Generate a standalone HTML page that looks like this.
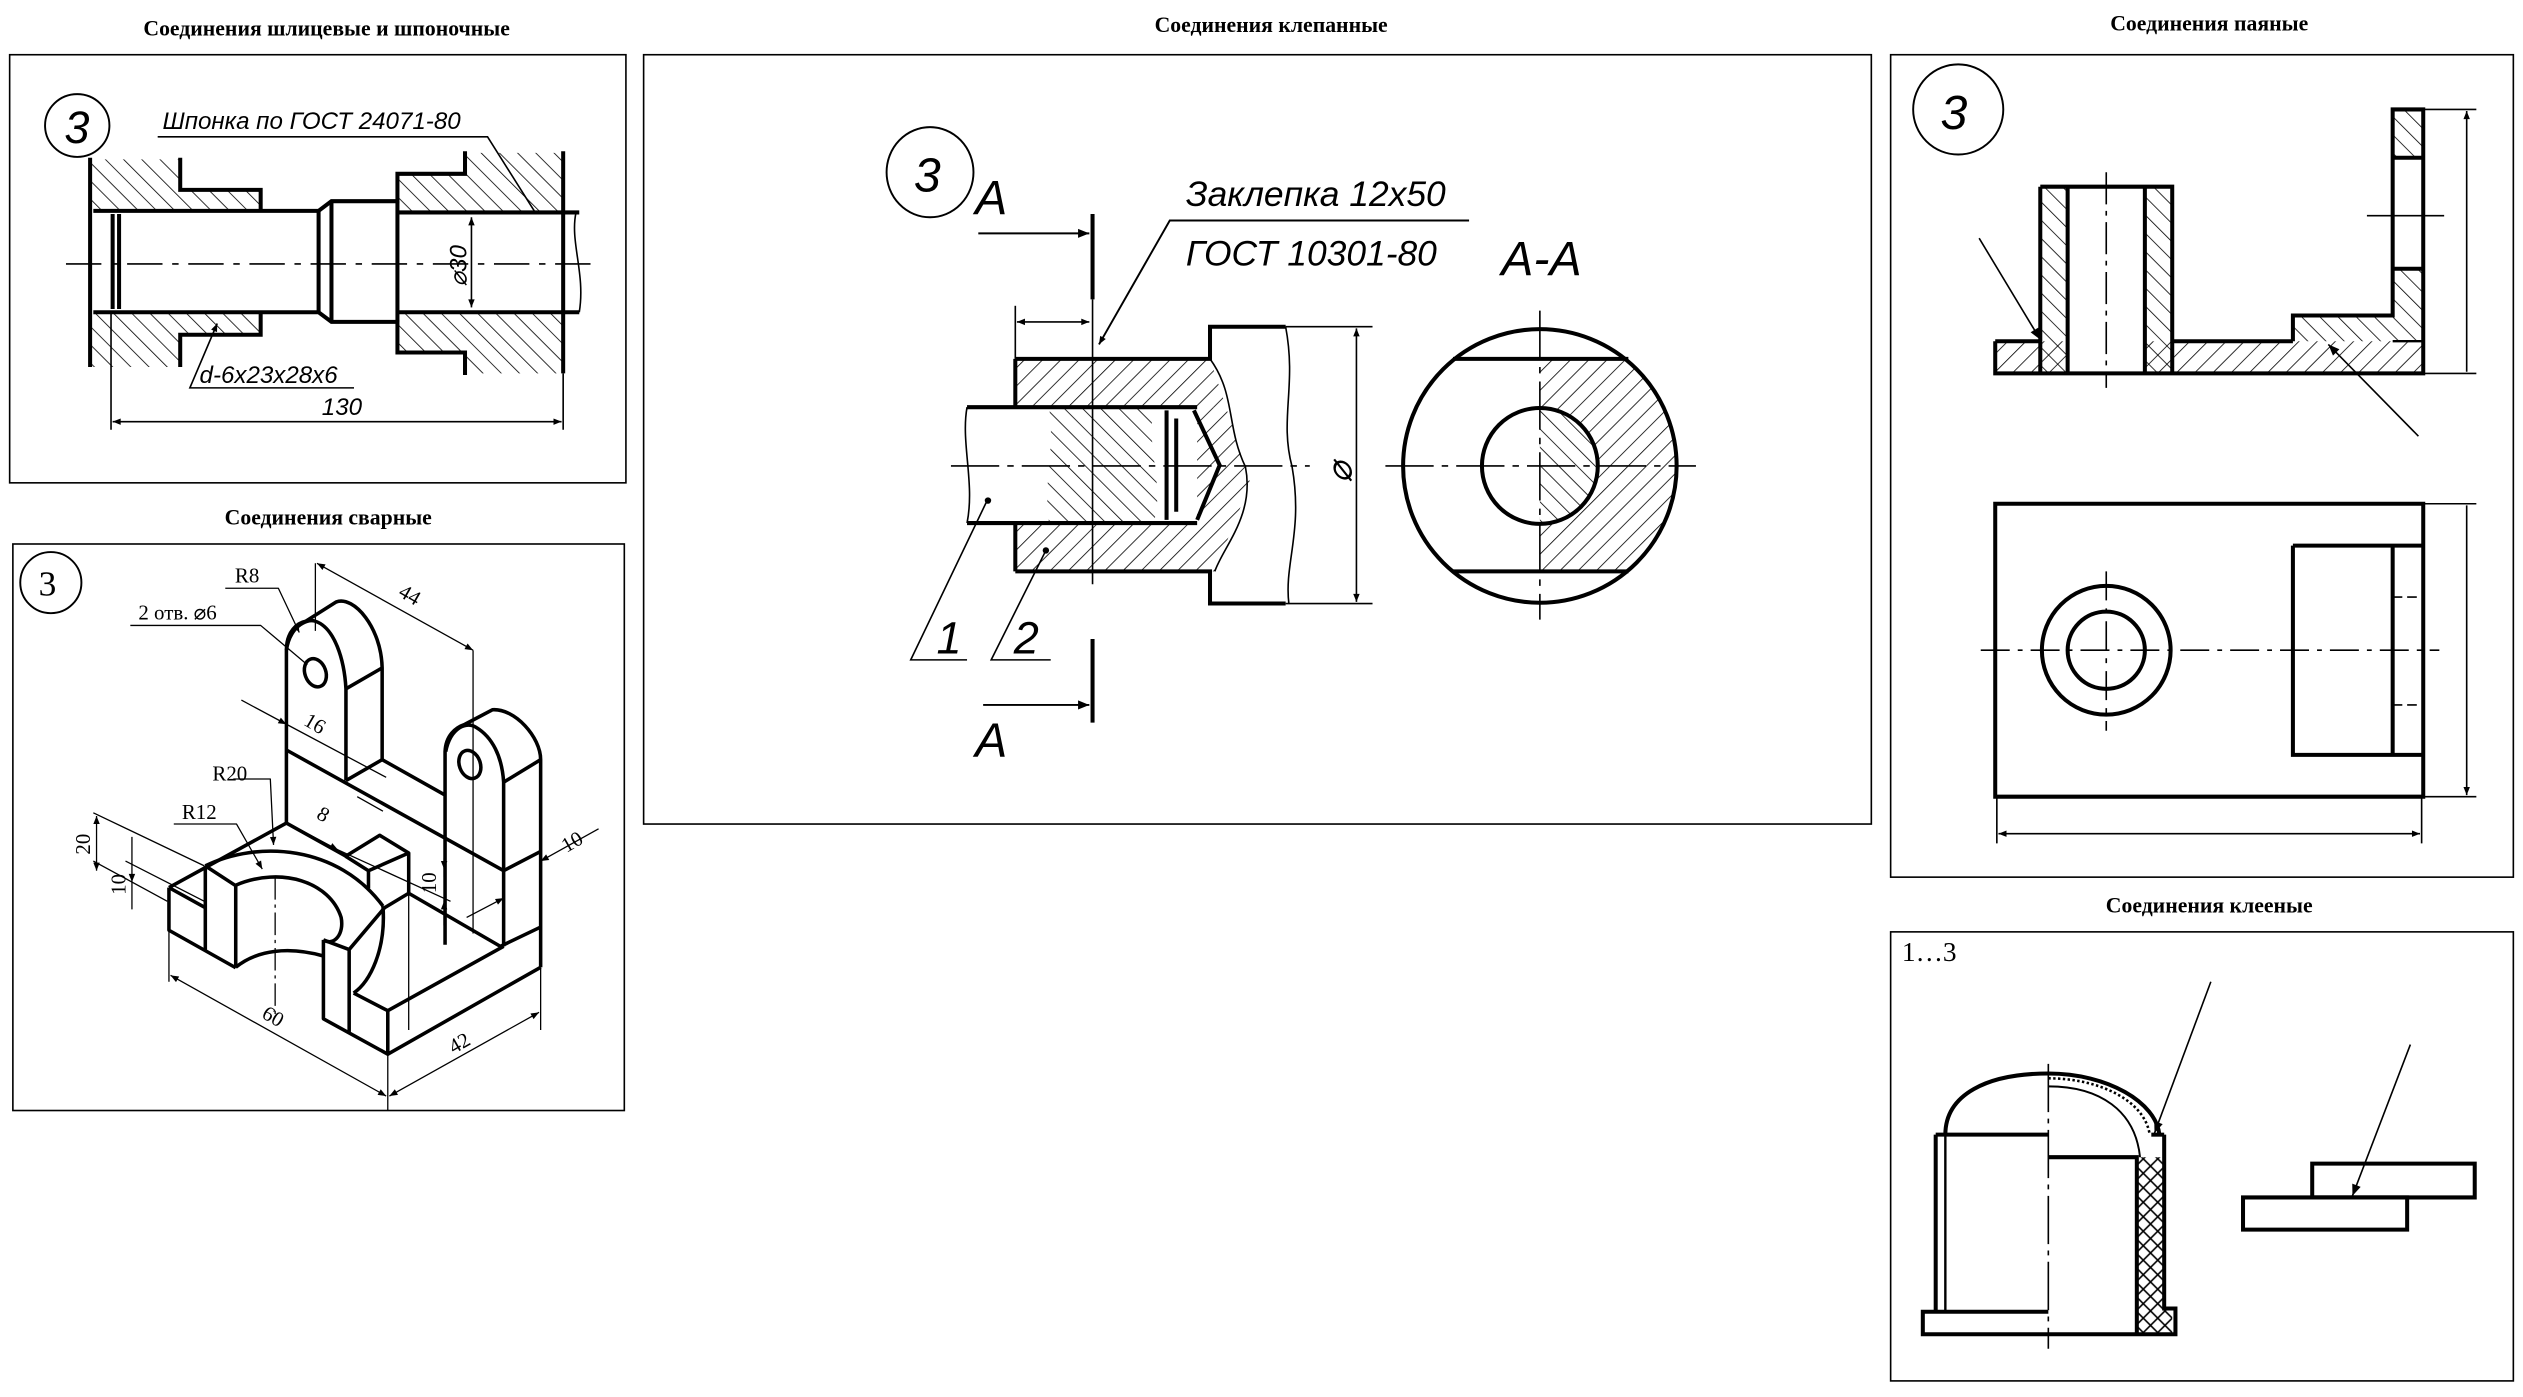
<!DOCTYPE html>
<html><head><meta charset="utf-8"><style>
html,body{margin:0;padding:0;background:#fff;}
svg{display:block;}
.t{font-family:"Liberation Serif",serif;font-weight:bold;font-size:13.5px;fill:#000;}
.d{font-family:"Liberation Sans",sans-serif;font-style:italic;fill:#000;}
.s{font-family:"Liberation Serif",serif;fill:#000;}
</style></head><body>
<svg width="2523" height="1397" viewBox="0 0 1568 868" preserveAspectRatio="none" xmlns="http://www.w3.org/2000/svg">
<defs>
<pattern id="h1" patternUnits="userSpaceOnUse" width="8" height="8" patternTransform="rotate(45)"><line x1="0" y1="0" x2="0" y2="8" stroke="#000" stroke-width="1"/></pattern>
<pattern id="h2" patternUnits="userSpaceOnUse" width="8" height="8" patternTransform="rotate(-45)"><line x1="0" y1="0" x2="0" y2="8" stroke="#000" stroke-width="1"/></pattern>
<pattern id="hx" patternUnits="userSpaceOnUse" width="9" height="9"><path d="M0 0L9 9M9 0L0 9" stroke="#000" stroke-width="1"/></pattern>
<marker id="ar" viewBox="0 0 10 10" refX="10" refY="5" markerWidth="12" markerHeight="5" markerUnits="userSpaceOnUse" orient="auto-start-reverse"><path d="M0 1L10 5L0 9Z" fill="#000"/></marker>
<marker id="arb" viewBox="0 0 10 10" refX="10" refY="5" markerWidth="20" markerHeight="7" markerUnits="userSpaceOnUse" orient="auto-start-reverse"><path d="M0 1L10 5L0 9Z" fill="#000"/></marker>
<clipPath id="ringR"><rect x="957" y="223" width="100" height="132"/></clipPath>
</defs>
<rect width="1568" height="868" fill="#fff"/>

<text class="t" x="203" y="22" text-anchor="middle">Соединения шлицевые и шпоночные</text>
<text class="t" x="204" y="326" text-anchor="middle">Соединения сварные</text>
<text class="t" x="790" y="20" text-anchor="middle">Соединения клепанные</text>
<text class="t" x="1373" y="19" text-anchor="middle">Соединения паяные</text>
<text class="t" x="1373" y="567" text-anchor="middle">Соединения клееные</text>

<g fill="none" stroke="#000" stroke-width="1">
<rect x="6" y="34" width="383" height="266"/>
<rect x="8" y="338" width="380" height="352"/>
<rect x="400" y="34" width="763" height="478"/>
<rect x="1175" y="34" width="387" height="511"/>
<rect x="1175" y="579" width="387" height="279"/>
</g>

<!-- Panel 1 -->
<g stroke="#000" fill="none">
<ellipse cx="48" cy="78" rx="20" ry="19.5" stroke-width="1.2"/>
<text class="d" x="40" y="89" font-size="28" stroke="none" fill="#000">3</text>
<text class="d" x="101" y="80" font-size="15" stroke="none" fill="#000">Шпонка по ГОСТ 24071-80</text>
<path d="M98 85H303L332 131" stroke-width="1"/>
<path d="M57 99H112V118H162V130H57Z" fill="url(#h2)" stroke="none"/>
<path d="M57 195H162V208H112V228H57Z" fill="url(#h2)" stroke="none"/>
<path d="M248 108H289V95H350V131H248Z" fill="url(#h2)" stroke="none"/>
<path d="M248 195H350V232H289V219H248Z" fill="url(#h2)" stroke="none"/>
<g stroke-width="2.5">
<path d="M56 98V228"/>
<path d="M112 98V118H162V130"/>
<path d="M112 228V208H162V195"/>
<path d="M58 131H198L206 125H247V108H289V94"/>
<path d="M58 194H198L206 200H247V219H289V233"/>
<path d="M198 131V194M206 125V200M247 125V200"/>
<path d="M70 133V192M74 133V192"/>
<path d="M247 132H360M247 194H360"/>
<path d="M350 94V232"/>
</g>
<path d="M358 132C354 150 364 170 360 194" stroke-width="1"/>
<path d="M41 164H368" stroke-width="1" stroke-dasharray="22 6 4 6"/>
<path d="M293 135V191" stroke-width="1" marker-start="url(#ar)" marker-end="url(#ar)"/>
<text class="d" font-size="15" stroke="none" fill="#000" transform="translate(290 178) rotate(-90)">⌀30</text>
<path d="M69 195V267M350 232V267" stroke-width="1"/>
<path d="M70 262H349" stroke-width="1" marker-start="url(#ar)" marker-end="url(#ar)"/>
<text class="d" x="200" y="258" font-size="15" stroke="none" fill="#000">130</text>
<text class="d" x="124" y="238" font-size="15" stroke="none" fill="#000">d-6x23x28x6</text>
<path d="M220 241H118L135 201" stroke-width="1" marker-end="url(#ar)"/>
</g>

<!-- Panel 3 rivet -->
<g stroke="#000" fill="none">
<ellipse cx="578" cy="107" rx="27" ry="28" stroke-width="1.2"/>
<text class="d" x="568" y="119" font-size="30" stroke="none" fill="#000">3</text>
<text class="d" x="606" y="133" font-size="30" stroke="none" fill="#000">A</text>
<text class="d" x="606" y="470" font-size="30" stroke="none" fill="#000">A</text>
<path d="M608 145H677" stroke-width="1.2" marker-end="url(#arb)"/>
<path d="M611 438H677" stroke-width="1.2" marker-end="url(#arb)"/>
<path d="M679 133V186M679 397V449" stroke-width="2.5"/>
<text class="d" x="737" y="128" font-size="22" stroke="none" fill="#000">Заклепка 12x50</text>
<text class="d" x="737" y="165" font-size="22" stroke="none" fill="#000">ГОСТ 10301-80</text>
<path d="M913 137H727L683 214" stroke-width="1.2" marker-end="url(#ar)"/>
<path d="M631 190V223" stroke-width="1"/>
<path d="M632 200H677" stroke-width="1" marker-start="url(#ar)" marker-end="url(#ar)"/>
<path d="M631 223H752L762 253L744 253H631Z" fill="url(#h1)" stroke="none"/>
<path d="M631 325H744L770 289L762 253L777 300L755 355H631Z" fill="url(#h1)" stroke="none"/>
<path d="M744 253L762 253L770 289L744 325Z" fill="url(#h1)" stroke="none"/>
<path d="M652 253H717C712 280 724 300 717 325H652C648 300 656 280 652 253Z" fill="url(#h2)" stroke="none"/>
<g stroke-width="2.5">
<path d="M631 223H752V203H799"/>
<path d="M631 355H752V375H799"/>
<path d="M631 223V253M631 325V355"/>
<path d="M601 253H744M601 325H744"/>
<path d="M725 255V323M731 260V318"/>
<path d="M742 255L758 289L744 323"/>
</g>
<path d="M601 253C597 275 606 300 601 325" stroke-width="1"/>
<path d="M752 223C768 245 762 265 774 290C780 320 760 340 755 355" stroke-width="1"/>
<path d="M799 203C806 240 795 260 803 290C810 330 798 350 801 375" stroke-width="1"/>
<path d="M591 289.5H814" stroke-width="1" stroke-dasharray="30 5 4 5"/>
<path d="M679 186V363" stroke-width="1"/>
<path d="M799 203H853M799 375H853" stroke-width="1"/>
<path d="M843 204V374" stroke-width="1" marker-start="url(#ar)" marker-end="url(#ar)"/>
<text class="d" font-size="22" stroke="none" fill="#000" transform="translate(840 300) rotate(-90)">⌀</text>
<path d="M613 312L566 410H601M650 342L616 410H653" stroke-width="1"/>
<circle cx="614" cy="311" r="1.5" fill="#000"/><circle cx="650" cy="342" r="1.5" fill="#000"/>
<text class="d" x="582" y="406" font-size="28" stroke="none" fill="#000">1</text>
<text class="d" x="630" y="406" font-size="28" stroke="none" fill="#000">2</text>
<text class="d" x="933" y="171" font-size="30" stroke="none" fill="#000">A-A</text>
<g clip-path="url(#ringR)"><circle cx="957" cy="289.5" r="85" fill="url(#h1)" stroke="none"/></g>
<path d="M957 253.5A36 36 0 0 1 957 325.5Z" fill="#fff" stroke="none"/>
<path d="M957 253.5A36 36 0 0 1 957 325.5Z" fill="url(#h2)" stroke="none"/>
<circle cx="957" cy="289.5" r="85" stroke-width="2.5"/>
<circle cx="957" cy="289.5" r="36" stroke-width="2.5"/>
<path d="M903 223H1012M903 355H1012" stroke-width="2.5"/>
<path d="M861 289.5H1054M957 193V385" stroke-width="1" stroke-dasharray="30 5 4 5"/>
</g>

<!-- Panel 4 solder -->
<g stroke="#000" fill="none">
<ellipse cx="1217" cy="68" rx="28" ry="28" stroke-width="1.2"/>
<text class="d" x="1206" y="80" font-size="30" stroke="none" fill="#000">3</text>
<path d="M1240 212H1506V232H1240Z" fill="url(#h1)" stroke="none"/>
<path d="M1268 116H1285V232H1268ZM1333 116H1350V232H1333Z" fill="url(#h2)" stroke="none"/>
<path d="M1285 116H1333V232H1285Z" fill="#fff" stroke="none"/>
<path d="M1487 68H1506V98H1487ZM1487 167H1506V212H1487ZM1425 196H1490V212H1425Z" fill="url(#h2)" stroke="none"/>
<g stroke-width="2.5">
<path d="M1240 212H1268M1350 212H1425M1240 212V232H1506V68H1487V196H1425V212"/>
<path d="M1268 116H1350V232M1268 116V232M1285 116V232M1333 116V232"/>
<path d="M1487 98H1506M1487 167H1506"/>
<path d="M1240 313H1506V495H1240Z"/>
<path d="M1425 339H1505M1425 339V469H1505M1487 339V469"/>
<circle cx="1309" cy="404" r="40"/>
<circle cx="1309" cy="404" r="24"/>
</g>
<path d="M1487 212H1506" stroke-width="1.5"/>
<path d="M1309 107V241" stroke-width="1" stroke-dasharray="20 4 3 4"/>
<path d="M1471 134H1519" stroke-width="1"/>
<path d="M1506 68H1539M1506 232H1539M1506 313H1539M1506 495H1539" stroke-width="1"/>
<path d="M1533 69V231M1533 314V494" stroke-width="1" marker-start="url(#ar)" marker-end="url(#ar)"/>
<path d="M1241 495V524M1505 495V524" stroke-width="1"/>
<path d="M1242 518H1504" stroke-width="1" marker-start="url(#ar)" marker-end="url(#ar)"/>
<path d="M1230 148L1268 211" stroke-width="1" marker-end="url(#arb)"/>
<path d="M1503 271L1447 214" stroke-width="1" marker-end="url(#arb)"/>
<path d="M1231 404H1516" stroke-width="1" stroke-dasharray="18 5 3 5"/>
<path d="M1309 355V454" stroke-width="1" stroke-dasharray="18 5 3 5"/>
<path d="M1487 371H1505M1487 438H1505" stroke-width="1" stroke-dasharray="6 3"/>
</g>

<!-- Panel 5 glue -->
<g stroke="#000" fill="none">
<text class="s" x="1182" y="597" font-size="17" stroke="none" fill="#000">1…3</text>
<path d="M1328 719H1344V813H1350V828H1328Z" fill="url(#hx)" stroke="none"/>
<g stroke-width="2.5">
<path d="M1203 705H1273M1203 705V815"/>
<path d="M1209 705C1209 680 1235 667 1273 667C1310 667 1340 685 1342 705"/>
<path d="M1273 719H1328V828M1345 705V813H1352V829H1195V815H1273"/>
<path d="M1337 705H1345"/>
</g>
<path d="M1209 705V815" stroke-width="1.5"/>
<path d="M1273 675C1305 675 1327 690 1330 719" stroke-width="1.2"/>
<path d="M1273 670C1305 670 1333 684 1336 705" stroke-width="1.6" stroke-dasharray="1.5 1.5"/>
<path d="M1273 661V838" stroke-width="1" stroke-dasharray="30 4 3 4"/>
<path d="M1374 610L1339 704" stroke-width="1" marker-end="url(#arb)"/>
<path d="M1437 723H1538V744H1437Z" stroke-width="2.5"/>
<path d="M1394 744H1496V764H1394Z" stroke-width="2.5"/>
<path d="M1498 649L1462 743" stroke-width="1" marker-end="url(#arb)"/>
</g>

<!-- Panel 2 weld iso -->
<g stroke="#000" fill="none" stroke-linejoin="round">
<circle cx="31.6" cy="362" r="19" stroke-width="1.2"/>
<text class="s" x="24" y="370" font-size="22" stroke="none" fill="#000">3</text>
<text class="s" x="146" y="362" font-size="13" stroke="none" fill="#000">R8</text>
<text class="s" x="86" y="385" font-size="13" stroke="none" fill="#000">2 отв. ⌀6</text>
<path d="M140 365.5H173L186 393" stroke-width="0.8" marker-end="url(#ar)"/>
<path d="M81 388.6H162L191 413" stroke-width="0.8"/>
<g stroke-width="2.2">
<path d="M178 511V404C178 392 185 387 190 386L209 374C220 370 237 390 237.5 415V472"/>
<path d="M178 404C180 390 190 384 196 386C208 390 214 410 215 428V485"/>
<path d="M215 428L237.5 415"/>
<ellipse cx="196" cy="418" rx="6.5" ry="9" transform="rotate(-20 196 418)"/>
<path d="M276.6 587V467C277 457 283 452 289 450L306 441C320 440 336 458 336 472V601"/>
<path d="M277 467C280 452 290 448 296 452C306 458 312 470 313 486V588"/>
<path d="M313 486L336 472"/>
<ellipse cx="292" cy="475" rx="6.5" ry="9" transform="rotate(-20 292 475)"/>
<path d="M178 466L313 541L336 529"/>
<path d="M215 485L237.5 472L276.6 494"/>
<path d="M105 551.5L178 511.4L215 532"/>
<path d="M105 551.5V578L146.5 601.3"/>
<path d="M105 551.5L127.6 564M127.6 538V590"/>
<path d="M127.6 538L146.5 550.3V601.3"/>
<path d="M127.6 538C160 522 210 525 238 563"/>
<path d="M146.5 550C175 538 205 548 212 570C214 580 208 588 201 584"/>
<path d="M146.5 601C160 590 180 588 201 594"/>
<path d="M238 563C240 590 230 610 219.8 617"/>
<path d="M214.8 532L236 519L254 530V555L239 564"/>
<path d="M214.8 532L229 541L254 530M229 541V552"/>
<path d="M254 555L311 588L336 576"/>
<path d="M201 584V633L241 655V628L219.8 617M217 590V642M201 584L217 590L239 564"/>
<path d="M241 628L313 588M241 655L336 601"/>
</g>
<g stroke-width="0.8">
<path d="M196 350V392M294 404V580M254 555V640M241 655V690M336 601V640M105 578V610M178 404V466"/>
<path d="M197 350L294 404" marker-start="url(#ar)" marker-end="url(#ar)"/>
<path d="M106 606L240 681" marker-start="url(#ar)" marker-end="url(#ar)"/>
<path d="M242 681L335 629" marker-start="url(#ar)" marker-end="url(#ar)"/>
<path d="M150 435L178 450" marker-end="url(#ar)"/>
<path d="M178 450L240 483M222 495L238 504" />
<path d="M178 511L210 528" marker-end="url(#ar)"/>
<path d="M210 528L280 560"/>
<path d="M145 484H168L170 525" marker-end="url(#ar)"/>
<path d="M108 512H147L163 540" marker-end="url(#ar)"/>
<path d="M58 505L127 538M58 535L104 560M78 535L127 560"/>
<path d="M60 507V541" marker-start="url(#ar)" marker-end="url(#ar)"/>
<path d="M82 520V565M82 535V548" marker-end="url(#ar)"/>
<path d="M276 533V545M276 560V575" />
<path d="M276 520V540" marker-end="url(#ar)"/>
<path d="M276 575V560" marker-end="url(#ar)"/>
<path d="M372 515L336 535" marker-end="url(#ar)"/>
<path d="M290 570L313 558" marker-end="url(#ar)"/>
<path d="M171 545V630" stroke-dasharray="14 3 2 3"/>
</g>
<text class="s" font-size="13" stroke="none" fill="#000" transform="translate(247 370) rotate(30)">44</text>
<text class="s" font-size="13" stroke="none" fill="#000" transform="translate(188 450) rotate(30)">16</text>
<text class="s" font-size="13" stroke="none" fill="#000" transform="translate(196 508) rotate(30)">8</text>
<text class="s" x="132" y="485" font-size="13" stroke="none" fill="#000">R20</text>
<text class="s" x="113" y="509" font-size="13" stroke="none" fill="#000">R12</text>
<text class="s" font-size="13" stroke="none" fill="#000" transform="translate(56 531) rotate(-90)">20</text>
<text class="s" font-size="13" stroke="none" fill="#000" transform="translate(78 556) rotate(-90)">10</text>
<text class="s" font-size="13" stroke="none" fill="#000" transform="translate(271 555) rotate(-90)">10</text>
<text class="s" font-size="13" stroke="none" fill="#000" transform="translate(352 530) rotate(-30)">10</text>
<text class="s" font-size="13" stroke="none" fill="#000" transform="translate(162 632) rotate(30)">60</text>
<text class="s" font-size="13" stroke="none" fill="#000" transform="translate(282 655) rotate(-30)">42</text>
</g>
</svg>
</body></html>
